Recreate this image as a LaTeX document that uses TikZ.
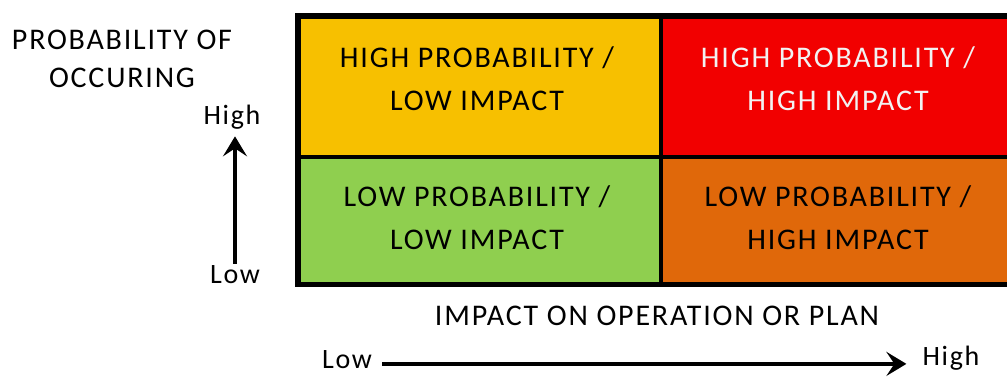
\documentclass[tikz,border=0pt]{standalone}
\usepackage{fontspec}
\setmainfont{Carlito}[LetterSpace=6]
\usetikzlibrary{arrows.meta}
\definecolor{cgold}{HTML}{F7C000}
\definecolor{cred}{HTML}{F20000}
\definecolor{cgreen}{HTML}{8FCF4F}
\definecolor{corange}{HTML}{E0680A}
\definecolor{clight}{HTML}{F2F2F2}
\begin{document}
\begin{tikzpicture}[x=1pt,y=-1pt,
  cell/.style={draw=black, line width=3.5pt, inner sep=0pt, anchor=north west},
  celltext/.style={align=center, font=\fontsize{30}{43}\selectfont, inner sep=0pt},
  lbl/.style={font=\fontsize{30}{38}\selectfont, inner sep=2pt, align=center},
  endlbl/.style={font=\fontsize{28}{34}\selectfont, inner sep=2pt},
  arr/.style={line width=3.5pt, -{Stealth[length=20pt,width=24pt,inset=8pt]}}]
\clip (0,0) rectangle (1007,378);
\fill[white] (0,0) rectangle (1007,378);
% cells
\node[cell, fill=cgold,   minimum width=362pt, minimum height=139.5pt] (tl) at (297,15.5) {};
\node[cell, fill=cred,    minimum width=361pt, minimum height=139.5pt] (tr) at (659,15.5) {};
\node[cell, fill=cgreen,  minimum width=362pt, minimum height=126.5pt] (bl) at (297,155) {};
\node[cell, fill=corange, minimum width=361pt, minimum height=126.5pt] (br) at (659,155) {};
\draw[line width=4.5pt] (tl.north west) rectangle (br.south east);
% cell texts
\node[celltext] (tlt) at (477,78.5) {HIGH PROBABILITY /\\LOW IMPACT};
\node[celltext, text=clight] (trt) at (838,78.5) {HIGH PROBABILITY /\\HIGH IMPACT};
\node[celltext] (blt) at (477,217.5) {LOW PROBABILITY /\\LOW IMPACT};
\node[celltext] (brt) at (838,217.5) {LOW PROBABILITY /\\HIGH IMPACT};
% axis labels
\node[lbl] (prob) at (122,59) {PROBABILITY OF\\OCCURING};
\node[endlbl] (vhigh) at (232,117) {High};
\node[endlbl] (vlow) at (235,275) {Low};
\node[lbl] (impact) at (657,316) {IMPACT ON OPERATION OR PLAN};
\node[endlbl] (hlow) at (347,360) {Low};
\node[endlbl] (hhigh) at (951,358) {High};
% arrows
\draw[arr, shorten >=5pt] (vlow.north) -- (vlow.north |- vhigh.south);
\draw[arr, shorten <=8pt, shorten >=14pt] ([yshift=5pt]hlow.base east) -- ([yshift=5pt]hlow.base east -| hhigh.west);
\end{tikzpicture}
\end{document}
